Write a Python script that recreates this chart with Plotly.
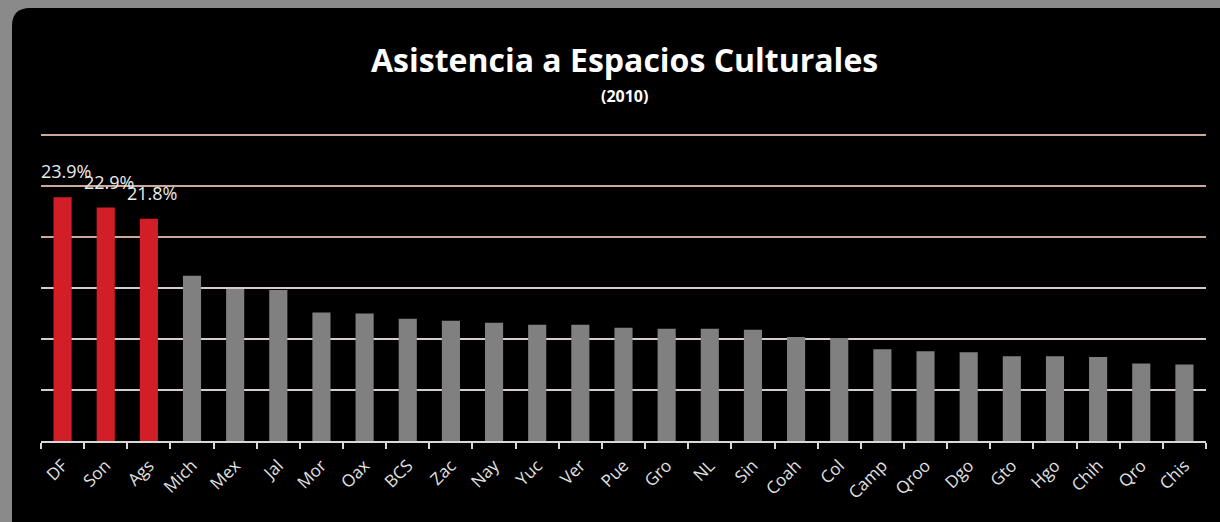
import plotly.graph_objects as go

# ---- data ----
states = ["DF", "Son", "Ags", "Mich", "Mex", "Jal", "Mor", "Oax", "BCS", "Zac", "Nay", "Yuc", "Ver",
          "Pue", "Gro", "NL", "Sin", "Coah", "Col", "Camp", "Qroo", "Dgo", "Gto", "Hgo", "Chih", "Qro", "Chis"]
values = [23.9, 22.9, 21.8, 16.2, 14.9, 14.8, 12.6, 12.5, 12.0, 11.8, 11.6, 11.4, 11.4,
          11.1, 11.0, 11.0, 10.9, 10.2, 10.1, 9.0, 8.8, 8.7, 8.3, 8.3, 8.25, 7.6, 7.5]
highlight = ["DF", "Son", "Ags"]
title = "Asistencia a Espacios Culturales"
subtitle = "(2010)"
lower_grid = [5, 10, 15]
upper_grid = [20, 25, 30]

W, H = 1220, 522
ML, MR, MT, MB = 41, 14, 130, 81
PW, PH = W - ML - MR, H - MT - MB

colors = ["#d21f27" if s in highlight else "#808080" for s in states]

fig = go.Figure()
fig.add_trace(go.Bar(x=states, y=values, marker=dict(color=colors, line=dict(width=0)),
                     hoverinfo="x+y", showlegend=False))
# invisible helper trace for the second grid axis
fig.add_trace(go.Scatter(x=[states[0]], y=[0], yaxis="y2", mode="markers",
                         marker=dict(opacity=0), showlegend=False, hoverinfo="skip"))

for s, v in zip(states, values):
    if s in highlight:
        fig.add_annotation(x=s, y=v, text=f"{v:.1f}%", showarrow=False, yshift=26,
                           xshift=3, yanchor="middle",
                           font=dict(family="Open Sans", size=18, color="#ececec"))


def px(x):
    return (x - ML) / PW


def py(y):
    return (H - MB - y) / PH


# black rounded panel
x0, x1, y0, y1, r = 12, 1240, 8, 540, 18
rx, ry = r / PW, r / PH
path = (f"M {px(x0)},{py(y0) - ry} "
        f"Q {px(x0)},{py(y0)} {px(x0) + rx},{py(y0)} "
        f"L {px(x1)},{py(y0)} L {px(x1)},{py(y1)} "
        f"L {px(x0) + rx},{py(y1)} "
        f"Q {px(x0)},{py(y1)} {px(x0)},{py(y1) + ry} Z")
fig.add_shape(type="path", path=path, xref="paper", yref="paper",
              fillcolor="#000000", line=dict(width=0), layer="below")

# title + subtitle
fig.add_annotation(text=f"<b>{title}</b>", xref="paper", yref="paper", x=px(624), y=py(59),
                   xanchor="center", yanchor="middle", showarrow=False,
                   font=dict(family="Open Sans", size=32, color="#ffffff"))
fig.add_annotation(text=f"<b>{subtitle}</b>", xref="paper", yref="paper", x=px(624), y=py(96),
                   xanchor="center", yanchor="middle", showarrow=False,
                   font=dict(family="Open Sans", size=16, color="#ffffff"))

fig.update_layout(
    width=W, height=H,
    margin=dict(l=ML, r=MR, t=MT, b=MB, autoexpand=False),
    paper_bgcolor="#8a8a8a",
    plot_bgcolor="rgba(0,0,0,0)",
    bargap=0.58,
    xaxis=dict(
        type="category", tickson="boundaries", ticks="outside", ticklen=6,
        tickwidth=2, tickcolor="#d8d8d8", showline=True, linecolor="#d8d8d8",
        linewidth=2, tickangle=-45, showgrid=False, automargin=False,
        ticklabelstandoff=6,
        tickfont=dict(family="Open Sans", size=17, color="#e2e2e2"),
        range=[-0.5, len(states) - 0.5],
    ),
    yaxis=dict(range=[0, 30.5], tickvals=lower_grid, showticklabels=False,
               showgrid=True, gridcolor="#d6cccc", gridwidth=2, zeroline=False,
               showline=False, ticks="", automargin=False),
    yaxis2=dict(range=[0, 30.5], overlaying="y", tickvals=upper_grid,
                showticklabels=False, showgrid=True, gridcolor="#cfa998", gridwidth=2,
                zeroline=False, showline=False, ticks="", automargin=False),
    font=dict(family="Open Sans", color="#ffffff"),
)

fig.write_html("out.html", config={"displayModeBar": False},
               post_script="document.body.style.margin='0';")
